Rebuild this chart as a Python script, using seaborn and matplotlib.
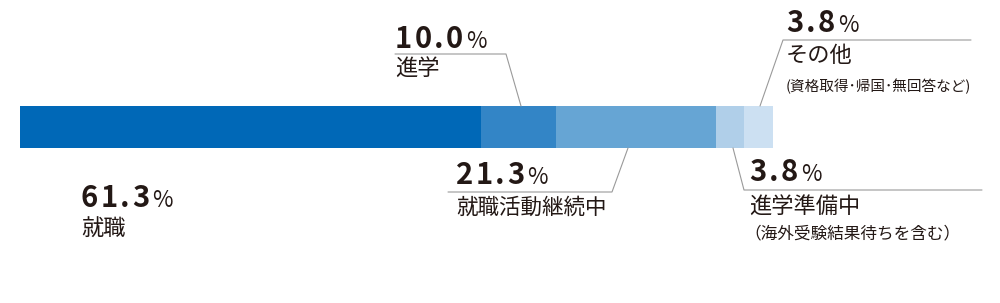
import matplotlib
matplotlib.use("Agg")
import matplotlib.pyplot as plt
from matplotlib.lines import Line2D
import seaborn as sns
import pandas as pd

# ---- data ----
categories = ["就職", "進学", "就職活動継続中", "進学準備中", "その他"]
values = [61.3, 10.0, 21.3, 3.8, 3.8]
value_labels = ["61.3", "10.0", "21.3", "3.8", "3.8"]
sub_labels = ["", "", "", "（海外受験結果待ちを含む）", "(資格取得･帰国･無回答など)"]
colors = ["#0068b7", "#3385c6", "#66a5d4", "#b0cfe9", "#cce0f2"]

sns.set_theme(style="white")
plt.rcParams["font.family"] = ["Noto Sans CJK JP", "DejaVu Sans"]

W, H = 1000, 303
fig = plt.figure(figsize=(W / 100, H / 100), dpi=100)

def fx(x):
    return x / W

def fy(y):
    return 1 - y / H

# bar axes: spans the bar area
ax = fig.add_axes([fx(20), fy(148), 753 / W, 42 / H])

# cumulative values drawn back to front (stacked bar)
cum = []
s = 0
for v in values:
    s += v
    cum.append(s)
for c, col in reversed(list(zip(cum, colors))):
    df = pd.DataFrame({"value": [c], "group": ["all"]})
    sns.barplot(data=df, x="value", y="group", orient="h", color=col,
                saturation=1, width=1.0, linewidth=0, ax=ax)
ax.set_xlim(0, cum[-1])
ax.set_ylim(0.5, -0.5)
ax.axis("off")

TXT = "#231815"
LINE = "#9a9a9a"

def line(pts):
    xs = [fx(p[0]) for p in pts]
    ys = [fy(p[1]) for p in pts]
    fig.add_artist(Line2D(xs, ys, transform=fig.transFigure, color=LINE, lw=0.8))

renderer = fig.canvas.get_renderer()

def number(x, y, s):
    cx = x
    for ch in s:
        t = fig.text(fx(cx), fy(y), ch, fontsize=21, weight="bold", color=TXT,
                     va="baseline", ha="left")
        ext = t.get_window_extent(renderer)
        cx += ext.width + 2.2
    fig.text(fx(cx + 1), fy(y), "%", fontsize=16, color=TXT,
             va="baseline", ha="left")

def label(x, y, s, size=16):
    fig.text(fx(x), fy(y), s, fontsize=size, color=TXT, va="center", ha="left")

# 就職
number(81, 207, value_labels[0])
label(81, 229, categories[0])

# 進学
number(395, 48, value_labels[1])
label(395, 69, categories[1])
line([(395, 54), (506, 54), (521, 106)])

# 就職活動継続中
number(456, 184, value_labels[2])
label(456, 208, categories[2], 15.5)
line([(448, 192), (612, 192), (628, 148)])

# 進学準備中
number(749, 181, value_labels[3])
label(749, 207, categories[3])
label(744, 234, sub_labels[3], 12)
line([(733, 148), (744, 190), (982, 190)])

# その他
number(786, 32, value_labels[4])
label(786, 56, categories[4])
label(786, 86, sub_labels[4], 10.5)
line([(971, 40), (783, 40), (760, 106)])

fig.savefig("out.png", dpi=100, facecolor="white")
